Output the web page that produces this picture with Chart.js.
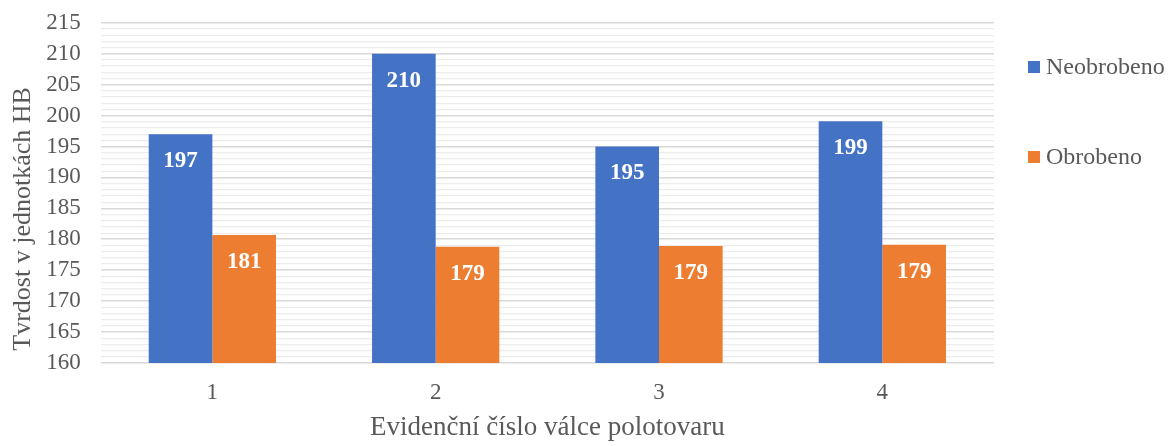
<!DOCTYPE html>
<html>
<head>
<meta charset="utf-8">
<script src="https://cdn.jsdelivr.net/npm/chart.js@4"></script>
<style>
    html, body { margin: 0; padding: 0; background: #fff; }
    #wrap { width: 1174px; height: 446px; }
</style>
</head>
<body>
<div id="wrap"><canvas id="hardness_chart"></canvas></div>
<script>
// data
const categories = ['1', '2', '3', '4'];
const neobrobeno = [197, 210, 195, 199.1];
const obrobeno = [180.7, 178.8, 178.9, 179.1];
const seriesNames = ['Neobrobeno', 'Obrobeno'];
const yMin = 160;
const yMax = 215;

const FONT = "'Liberation Serif', 'Times New Roman', serif";
const GREY = '#595959';

// white value labels inside the top of each bar
const barLabels = {
    id: 'barLabels',
    afterDatasetsDraw(chart) {
        const ctx = chart.ctx;
        ctx.save();
        ctx.fillStyle = '#ffffff';
        ctx.font = 'bold 23px ' + FONT;
        ctx.textAlign = 'center';
        ctx.textBaseline = 'middle';
        chart.data.datasets.forEach((ds, i) => {
            chart.getDatasetMeta(i).data.forEach((bar, j) => {
                ctx.fillText(Math.round(ds.data[j]), bar.x, bar.y + 27);
            });
        });
        ctx.restore();
    }
};

// legend on the right, spaced like the original
const sideLegend = {
    id: 'sideLegend',
    afterDraw(chart) {
        const ctx = chart.ctx;
        const x = chart.chartArea.right + 34;
        ctx.save();
        ctx.font = '24px ' + FONT;
        ctx.textBaseline = 'middle';
        chart.data.datasets.forEach((ds, i) => {
            const y = 67 + i * 90;
            ctx.fillStyle = ds.backgroundColor;
            ctx.fillRect(x, y - 6, 12, 12);
            ctx.fillStyle = GREY;
            ctx.fillText(ds.label, x + 18, y + 1);
        });
        ctx.restore();
    }
};

const data = {
    labels: categories,
    datasets: [{
        label: seriesNames[0],
        data: neobrobeno,
        backgroundColor: '#4472C4',
        barPercentage: 1,
        categoryPercentage: 0.57
    }, {
        label: seriesNames[1],
        data: obrobeno,
        backgroundColor: '#ED7D31',
        barPercentage: 1,
        categoryPercentage: 0.57
    }]
};

const config = {
    type: 'bar',
    data: data,
    options: {
        responsive: true,
        maintainAspectRatio: false,
        animation: false,
        layout: {
            padding: { left: 8, right: 180, top: 14, bottom: 2 }
        },
        plugins: {
            legend: { display: false },
            tooltip: { enabled: false }
        },
        scales: {
            x: {
                grid: { display: false, drawTicks: false },
                border: { display: false },
                ticks: {
                    color: GREY,
                    font: { family: FONT, size: 23 },
                    padding: 16
                },
                title: {
                    display: true,
                    text: 'Evidenční číslo válce polotovaru',
                    color: GREY,
                    font: { family: FONT, size: 27 },
                    padding: { top: -11, bottom: 0 }
                }
            },
            y: {
                min: yMin,
                max: yMax,
                border: { display: false },
                grid: {
                    drawTicks: true,
                    tickLength: 11,
                    tickColor: 'rgba(0,0,0,0)',
                    color: c => c.tick.value % 5 === 0 ? '#d9d9d9' : '#ececec',
                    lineWidth: c => c.tick.value % 5 === 0 ? 1.6 : 1.2
                },
                ticks: {
                    stepSize: 1,
                    autoSkip: false,
                    color: GREY,
                    font: { family: FONT, size: 23 },
                    padding: 9,
                    callback: v => v % 5 === 0 ? v : ''
                },
                title: {
                    display: true,
                    // trailing spaces push the text down a little, as in the original
                    text: 'Tvrdost v jednotkách HB\u00a0\u00a0\u00a0\u00a0\u00a0\u00a0\u00a0\u00a0',
                    color: GREY,
                    font: { family: FONT, size: 26 },
                    padding: { top: 0, bottom: -2 }
                }
            }
        }
    },
    plugins: [barLabels, sideLegend]
};

const myChart = new Chart(document.getElementById('hardness_chart'), config);
</script>
</body>
</html>
